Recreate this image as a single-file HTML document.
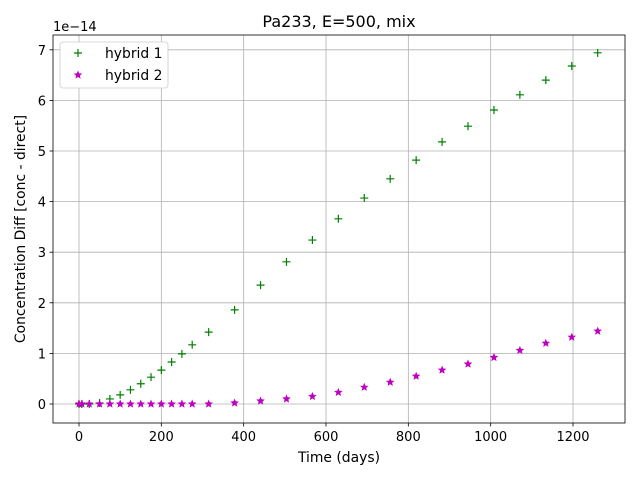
<!DOCTYPE html>
<html><head><meta charset="utf-8"><style>
body{margin:0;background:#fff;font-family:"Liberation Sans","DejaVu Sans",sans-serif}
svg text{font-family:"DejaVu Sans","Liberation Sans",sans-serif;font-size:13.9px;fill:#000}
</style></head><body>
<svg id="c" width="640" height="480"></svg>
<script>
const days=[0,7,25,50,75,100,125,150,175,200,225,250,275,315,378,441,504,567,630,693,756,819,882,945,1008,1071,1134,1197,1260];
const hybrid1=[0,0,0,0.02,0.1,0.18,0.28,0.4,0.53,0.67,0.83,0.99,1.17,1.42,1.86,2.35,2.81,3.24,3.66,4.07,4.45,4.82,5.18,5.49,5.81,6.11,6.4,6.68,6.94];
const hybrid2=[0,0,0,0,0,0,0,0,0,0,0,0,0,0,0.02,0.06,0.1,0.15,0.23,0.33,0.43,0.55,0.67,0.79,0.92,1.06,1.2,1.32,1.44];
const xTicks=[0,200,400,600,800,1000,1200];
const yTicks=[0,1,2,3,4,5,6,7];
const L=53,R=625,T=35,B=423;
const xs=d=>79+(d-0)*(573-79)/1200;
const ys=v=>404-v*50.6;
const svg=document.getElementById('c');
const NS='http://www.w3.org/2000/svg';
function mk(t,a,p){const e=document.createElementNS(NS,t);for(const k in a)e.setAttribute(k,a[k]);(p||svg).appendChild(e);return e;}
xTicks.forEach(t=>{const x=xs(t);
const g=mk('line',{x1:x,x2:x,y1:T,y2:B,stroke:'#b0b0b0','stroke-width':0.8});


mk('line',{x1:x,x2:x,y1:B,y2:B+3.5,stroke:'#000','stroke-width':0.8});
const tx=mk('text',{x:x,y:B+18,'text-anchor':'middle',style:'font-size:13px'});tx.textContent=t;

});
yTicks.forEach(t=>{const y=ys(t);
const g=mk('line',{x1:L,x2:R,y1:y,y2:y,stroke:'#b0b0b0','stroke-width':0.8});


mk('line',{x1:L-3.5,x2:L,y1:y,y2:y,stroke:'#000','stroke-width':0.8});
const tx=mk('text',{x:L-7,y:y+5,'text-anchor':'end',style:'font-size:13px'});tx.textContent=t;

});
const fr=mk('rect',{x:L,y:T,width:R-L,height:B-T,fill:'none',stroke:'#000','stroke-width':0.8});


function star(cx,cy,r){let p=[];for(let i=0;i<10;i++){const a=-Math.PI/2+i*Math.PI/5;const rr=i%2?r*0.45:r;p.push((cx+rr*Math.cos(a)).toFixed(1)+','+(cy+rr*Math.sin(a)).toFixed(1));}return p.join(' ');}
days.forEach((d,i)=>{const x=xs(d),y=ys(hybrid1[i]);
const p=mk('path',{d:`M${x-4},${y}H${x+4}M${x},${y-4}V${y+4}`,stroke:'green','stroke-width':1.2});

});
days.forEach((d,i)=>{const x=xs(d),y=ys(hybrid2[i]);
const p=mk('polygon',{points:star(x,y,4.5),fill:'#bf00bf'});

});
const ti=mk('text',{x:339,y:27,'text-anchor':'middle',style:'font-size:16px'});ti.textContent='Pa233, E=500, mix';


const xl=mk('text',{x:339,y:462,'text-anchor':'middle'});xl.textContent='Time (days)';


const yl=mk('text',{x:25,y:229,'text-anchor':'middle',transform:'rotate(-90 25 229)'});yl.textContent='Concentration Diff [conc - direct]';


const off=mk('text',{x:53,y:31,style:'font-size:13px'});off.textContent='1e−14';


const lg=mk('g',{});


mk('rect',{x:60,y:42,width:108,height:46,rx:3,fill:'#fff',stroke:'#ccc','stroke-width':0.8},lg);
mk('path',{d:'M74,53H82M78,49V57',stroke:'green','stroke-width':1.2},lg);
const t1=mk('text',{x:105,y:58},lg);t1.textContent='hybrid 1';


mk('polygon',{points:star(78,75,4.5),fill:'#bf00bf'},lg);
const t2=mk('text',{x:105,y:80},lg);t2.textContent='hybrid 2';


</script>
</body></html>
